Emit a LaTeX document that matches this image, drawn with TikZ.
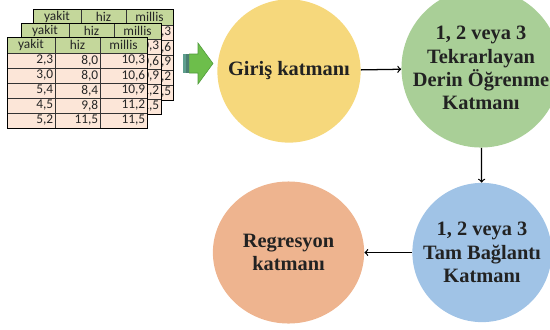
\documentclass[tikz,border=0pt]{standalone}
\usepackage{fontspec}
\setmainfont{Liberation Serif}
\newfontfamily\tablofont{Carlito}
\usetikzlibrary{shapes.geometric, arrows}
\definecolor{sari}{HTML}{F6D87C}
\definecolor{yesil}{HTML}{A9CF97}
\definecolor{mavi}{HTML}{A0C3E6}
\definecolor{turuncu}{HTML}{EEB48F}
\definecolor{baslikrenk}{HTML}{C4D79B}
\definecolor{satirrenk}{HTML}{FCE6D8}
\definecolor{okyesil}{HTML}{6DBE4B}
\definecolor{okkenar}{HTML}{4F9A3A}
\definecolor{okserit}{HTML}{5E9E8E}
\definecolor{yazi}{HTML}{222222}

% #1,#2: sol ust kose, #3: ad, #4: ondeki tabloda gorunen ek sutunlar
\newcommand{\veritablo}[4]{%
    \begin{scope}[shift={(#1,#2)}]
        \fill[satirrenk] (0,0) rectangle (140,91);
        \fill[baslikrenk] (0,0) rectangle (140,16);
        \foreach \y in {16,31,...,76} \draw[izgara] (0,\y) -- (140,\y);
        \draw[izgara] (48,0) -- (48,91);
        \draw[izgara] (93,0) -- (93,91);
        \draw[line width=0.6pt] (0,0) rectangle (140,91);
        \node[hucre] (#3-b1) at (24,8) {yakit};
        \node[hucre] (#3-b2) at (70.5,8) {hiz};
        \node[hucre] (#3-b3) at (116.5,8) {millis};
        \foreach \c [count=\i] in {{10,3}, {10,6}, {10,9}, {11,2}, {11,5}}
            \node[hucre, anchor=east] (#3-\i-3) at (138.5,8.5+15*\i) {\c};
        #4
    \end{scope}}

\begin{document}
\begin{tikzpicture}
                    [
                        x=0.025cm, y=-0.025cm,
                        katman/.style = {shape=circle, inner sep=0pt, align=center, text=yazi, font=\bfseries\fontsize{14.5}{16.5}\selectfont},
                        hucre/.style = {inner sep=0pt, text=black!85, font=\tablofont\fontsize{9.5}{10}\selectfont},
                        izgara/.style = {line width=0.35pt, draw=black!80},
                        ok/.style = {->, line width=0.9pt},
                    ]

                    \useasboundingbox (0,0) rectangle (550,329);

                    % veri tablolari
                    \veritablo{33}{9}{arka}{}
                    \veritablo{21}{23}{orta}{}
                    \veritablo{7}{37}{on}{
                        \foreach \a/\b [count=\i] in {{2,3}/{8,0}, {3,0}/{8,0}, {5,4}/{8,4}, {4,5}/{9,8}, {5,2}/{11,5}}
                        {
                            \node[hucre, anchor=east] (on-\i-1) at (46.5,8.5+15*\i) {\a};
                            \node[hucre, anchor=east] (on-\i-2) at (91.5,8.5+15*\i) {\b};
                        }
                    }

                    % yesil blok ok
                    \fill[okserit] (183,54) rectangle (185.6,73);
                    \fill[okserit!80!black] (186.4,54) rectangle (188.6,73);
                    \filldraw[fill=okyesil, draw=okkenar, line width=0.4pt]
                        (189.4,54) -- (198,54) -- (198,43) -- (213,63.5) -- (198,84) -- (198,73) -- (189.4,73) -- cycle;

                    \node[katman, fill=sari, minimum size=3.58cm] (giris) at (289,71)     {Giriş katmanı};
                    \node[katman, fill=yesil, minimum size=3.42cm] (derin) at (481,68)     {1, 2 veya 3\\Tekrarlayan\\Derin Öğrenme\\Katmanı};
                    \node[katman, fill=mavi, minimum size=3.48cm] (tam) at (482,252.5)     {1, 2 veya 3\\Tam Bağlantı\\Katmanı};
                    \node[katman, shape=ellipse, fill=turuncu, minimum width=3.78cm, minimum height=3.55cm] (regresyon) at (288.5,252.5)     {Regresyon\\katmanı};

                    \draw [ok] (giris) -- (derin);
                    \draw [ok] (derin) -- (tam);
                    \draw [ok] (tam) -- (regresyon);
                \end{tikzpicture}
\end{document}
